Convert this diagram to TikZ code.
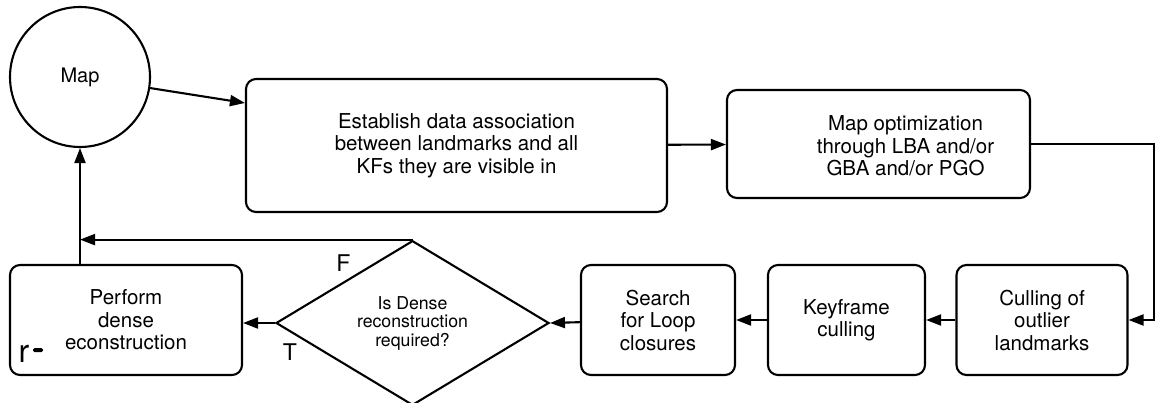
\documentclass[tikz,border=0pt]{standalone}
\usepackage{fontspec}
\setmainfont{TeX Gyre Heros}
\usetikzlibrary{arrows.meta,shapes.geometric}
\begin{document}
\begin{tikzpicture}[x=1pt,y=-1pt,
  line width=2.1pt,
  arr/.style={-{Triangle[length=15pt,width=11pt]}},
  boxfont/.style={font=\fontsize{20.5}{22.5}\selectfont},
  procbox/.style={draw,rounded corners=10pt,align=center,inner sep=0pt,boxfont},
  decision/.style={draw,diamond,inner sep=0pt,minimum width=273pt,minimum height=150pt,
    align=center,font=\fontsize{17.7}{18.5}\selectfont},
  lbl/.style={font=\fontsize{23}{23}\selectfont,inner sep=0pt}]
\useasboundingbox (0,0) rectangle (1156,403);
\node[draw,circle,minimum size=140pt,inner sep=0pt,font=\fontsize{20}{20}\selectfont] (map) at (80,77) {Map};
\node[procbox,minimum width=421pt,minimum height=133pt] (assoc) at (456.5,145.5)
  {Establish data association\\between landmarks and all\\KFs they are visible in};
\node[procbox,minimum width=303pt,minimum height=108pt,
  label={[boxfont,align=center,xshift=27pt,yshift=-2pt]center:Map optimization\\through LBA and/or\\GBA and/or PGO}] (opt) at (878.5,144) {};
\node[procbox,minimum width=171pt,minimum height=110pt] (cull) at (1042,320)
  {Culling of\\outlier\\landmarks};
\node[procbox,minimum width=157pt,minimum height=110pt] (kf) at (846.5,320)
  {Keyframe\\culling};
\node[procbox,minimum width=154pt,minimum height=110pt] (loop) at (658,320)
  {Search\\for Loop\\closures};
\node[decision] (dense) at (412.5,323) {Is Dense\\reconstruction\\required?};
\node[procbox,minimum width=232pt,minimum height=110pt] (perf) at (126,320)
  {Perform\\dense\\econstruction};
\node[font=\fontsize{32}{32}\selectfont,inner sep=0pt,anchor=base] (rr) at (24,362) {r};
\fill[rounded corners=1.5pt] (33,348) rectangle (43,352);
\node[lbl] (flab) at (343.5,263.5) {F};
\node[lbl] (tlab) at (290,352) {T};
\coordinate (ret) at (1154,0);
\coordinate (jn) at (map.south |- dense.north);
\draw[arr] (map) -- (assoc.west |- {(0,103)});
\draw[arr] (assoc) -- (opt);
\draw[arr] (opt.east) -- (ret |- opt.east) -- (ret |- cull.east) -- (cull.east);
\draw[arr] (cull) -- (kf);
\draw[arr] (kf) -- (loop);
\draw[arr] (loop) -- (dense.east);
\draw[arr] (dense.west) -- (perf.east |- dense.west);
\draw[arr] (dense.north) -- (jn);
\draw[arr] (map.south |- perf.north) -- (map.south);
\end{tikzpicture}
\end{document}
